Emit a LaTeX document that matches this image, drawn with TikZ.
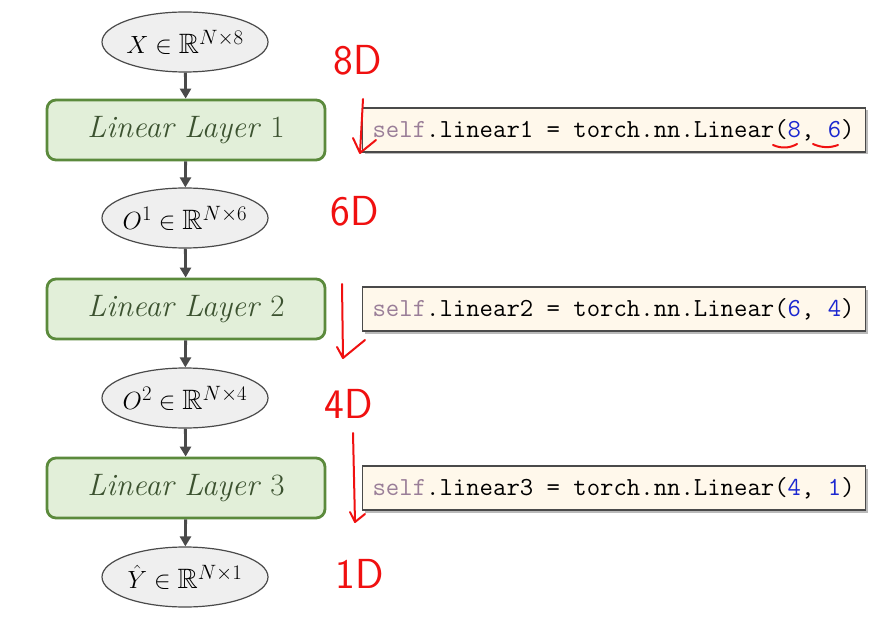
\documentclass[tikz,border=0pt]{standalone}
\usepackage{amssymb}
\usetikzlibrary{arrows.meta,shapes.geometric,shadows}
\definecolor{ellfill}{HTML}{EFEFEF}
\definecolor{ellline}{HTML}{4A4A4A}
\definecolor{boxfill}{HTML}{E2EFD9}
\definecolor{boxline}{HTML}{5B8A3C}
\definecolor{boxtext}{HTML}{3C5230}
\definecolor{codefill}{HTML}{FFF8EB}
\definecolor{selfc}{HTML}{9A7E98}
\definecolor{numc}{HTML}{1C28D0}
\definecolor{pen}{HTML}{F01010}
\tikzset{
  tensor/.style={ellipse, draw=ellline, fill=ellfill, line width=1.2pt, minimum width=166pt, minimum height=60pt, inner ysep=0pt, inner xsep=-8pt, font=\fontsize{28}{32}\selectfont},
  layer/.style={rectangle, rounded corners=9pt, draw=boxline, fill=boxfill, line width=2.8pt, minimum width=278pt, minimum height=60pt, text=boxtext, font=\fontsize{31}{36}\selectfont},
  code/.style={rectangle, draw=ellline, fill=codefill, line width=1.2pt, minimum height=44pt, minimum width=503pt, inner xsep=10pt, anchor=west, font=\ttfamily\fontsize{26}{30}\selectfont, drop shadow={shadow xshift=2.5pt, shadow yshift=-2.5pt, fill=black!45, opacity=0.6}},
  flow/.style={draw=ellline, line width=2.8pt, -{Triangle[length=10pt,width=11pt]}},
  ink/.style={draw=pen, line width=2pt, line cap=round, line join=round},
  hand/.style={text=pen, font=\sffamily\fontsize{42}{46}\selectfont}
}
\newcommand{\codeline}[1]{\makebox[483pt][l]{#1}}
\begin{document}
\begin{tikzpicture}[x=1pt,y=-1pt]
\useasboundingbox (0,0) rectangle (882,617);
\fill[white] (0,0) rectangle (882,617);

\node[tensor] (x) at (185,42) {$X \in \mathbb{R}^{N\times 8}$};
\node[layer] (l1) at (186,130) {\textit{Linear Layer} 1};
\node[tensor] (o1) at (185,218) {$O^{1} \in \mathbb{R}^{N\times 6}$};
\node[layer] (l2) at (186,309) {\textit{Linear Layer} 2};
\node[tensor] (o2) at (185,398) {$O^{2} \in \mathbb{R}^{N\times 4}$};
\node[layer] (l3) at (186,488) {\textit{Linear Layer} 3};
\node[tensor] (y) at (185,577) {$\hat{Y} \in \mathbb{R}^{N\times 1}$};

\draw[flow] (x) -- (l1);
\draw[flow] (l1) -- (o1);
\draw[flow] (o1) -- (l2);
\draw[flow] (l2) -- (o2);
\draw[flow] (o2) -- (l3);
\draw[flow] (l3) -- (y);

\node[code] (c1) at (362,130) {\codeline{\textcolor{selfc}{self}.linear1 = torch.nn.Linear(\textcolor{numc}{8}, \textcolor{numc}{6})}};
\node[code] (c2) at (362,309) {\codeline{\textcolor{selfc}{self}.linear2 = torch.nn.Linear(\textcolor{numc}{6}, \textcolor{numc}{4})}};
\node[code] (c3) at (362,488) {\codeline{\textcolor{selfc}{self}.linear3 = torch.nn.Linear(\textcolor{numc}{4}, \textcolor{numc}{1})}};

% handwritten annotations
\node[hand] (h8) at (358,60) {8D};
\node[hand] (h6) at (355,211) {6D};
\node[hand] (h4) at (349,404) {4D};
\node[hand] (h1) at (360,574) {1D};

\draw[ink] (363,99) -- (360,153) (353,138) -- (360,153) -- (376,140);
\draw[ink] (342,284) -- (343,358) (337,347) -- (343,358) -- (365,340);
\draw[ink] (353,433) -- (355,522) (350,512) -- (355,522) -- (365,514);
\draw[ink] (773,145) .. controls (782,149) and (790,148) .. (797,144);
\draw[ink] (813,144) .. controls (822,148) and (830,148) .. (838,145);
\end{tikzpicture}
\end{document}
